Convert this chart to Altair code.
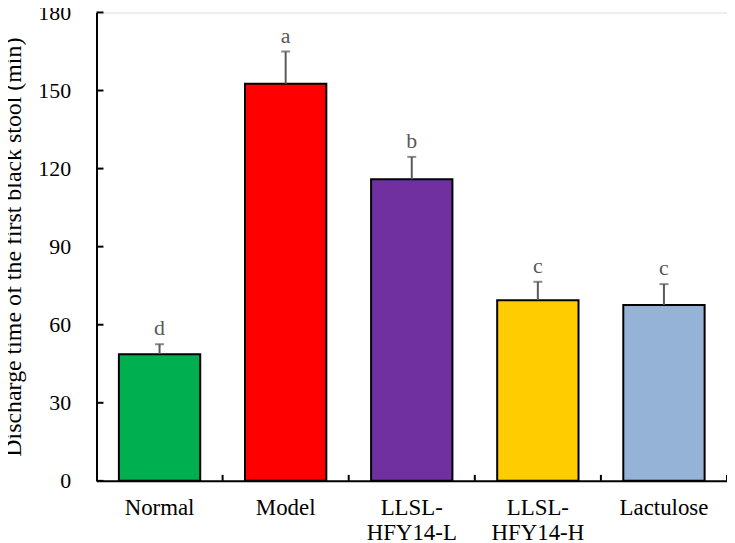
import altair as alt
import pandas as pd

groups = ["Normal", "Model", "LLSL-HFY14-L", "LLSL-HFY14-H", "Lactulose"]
means = [48.7, 152.6, 115.9, 69.4, 67.6]
errs = [3.8, 12.4, 8.6, 7.1, 8.0]
letters = ["d", "a", "b", "c", "c"]
colors = ["#00B050", "#FF0000", "#7030A0", "#FFCC00", "#95B3D7"]
y_ticks = [0, 30, 60, 90, 120, 150, 180]

df = pd.DataFrame({
    "group": groups,
    "mean": means,
    "top": [m + e for m, e in zip(means, errs)],
    "letter": letters,
})
tick_df = pd.DataFrame({"v": y_ticks})

FONT = "Liberation Serif"
W, H = 634, 471

xscale = alt.Scale(domain=groups, paddingInner=0, paddingOuter=0)
yscale = alt.Scale(domain=[0, 180], nice=False, zero=True)

x_enc = alt.X(
    "group:N", scale=xscale, sort=groups,
    axis=alt.Axis(
        title=None, labelAngle=0, ticks=False, domainColor="black", domainWidth=2,
        labelFont=FONT, labelFontSize=23, labelColor="black", labelPadding=16,
        labelLineHeight=25, labelBaseline="top",
        labelExpr="indexof(datum.value, 'HFY') > 0 ? ['LLSL-', substring(datum.value, 5)] : datum.value",
    ),
)
y_axis = alt.Axis(
    title="Discharge time of the first black stool  (min)",
    values=y_ticks, ticks=False, grid=False, domainColor="black", domainWidth=2,
    labelFont=FONT, labelFontSize=22, labelColor="black", labelPadding=26,
    titleFont=FONT, titleFontSize=24, titleFontWeight="normal", titleColor="black",
    titlePadding=12,
)

base = alt.Chart(df)

bars = base.mark_bar(
    stroke="black", strokeWidth=2, width=alt.RelativeBandSize(0.645)
).encode(
    x=x_enc,
    y=alt.Y("mean:Q", scale=yscale, axis=y_axis),
    fill=alt.Fill("group:N", scale=alt.Scale(domain=groups, range=colors), legend=None),
)

err_rule = base.mark_rule(color="#595959", strokeWidth=2).encode(
    x=alt.X("group:N", scale=xscale, sort=groups),
    y=alt.Y("mean:Q", scale=yscale),
    y2="top:Q",
)
err_cap = base.mark_tick(color="#595959", thickness=2, size=9, orient="horizontal").encode(
    x=alt.X("group:N", scale=xscale, sort=groups),
    y=alt.Y("top:Q", scale=yscale),
)
labels = base.mark_text(
    font=FONT, fontSize=22, color="#595959", baseline="alphabetic", dy=-9
).encode(
    x=alt.X("group:N", scale=xscale, sort=groups),
    y=alt.Y("top:Q", scale=yscale),
    text="letter:N",
)

ytick_marks = alt.Chart(tick_df).mark_rule(color="black", strokeWidth=2).encode(
    y=alt.Y("v:Q", scale=yscale),
    x=alt.value(0),
    x2=alt.value(7),
)
xtick_marks = base.mark_rule(color="black", strokeWidth=2).encode(
    x=alt.X("group:N", scale=xscale, sort=groups, bandPosition=1),
    y=alt.value(H),
    y2=alt.value(H - 6),
)

chart = alt.layer(bars, err_rule, err_cap, labels, ytick_marks, xtick_marks).properties(
    width=W, height=H,
    autosize=alt.AutoSizeParams(type="none"),
    padding={"left": 89, "top": 3, "right": 0, "bottom": 61},
).configure_view(stroke=None).configure(background="white")

chart.save("out.html", embed_options={"renderer": "svg", "actions": False})
